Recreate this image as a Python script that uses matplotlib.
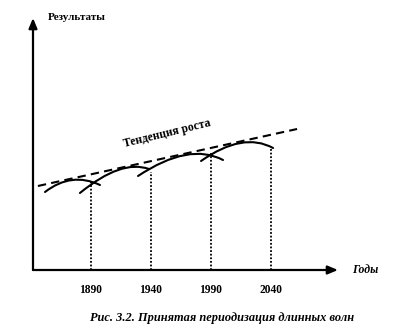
import numpy as np
import matplotlib
matplotlib.use("Agg")
import matplotlib.pyplot as plt
from matplotlib.path import Path
from matplotlib.patches import PathPatch

plt.rcParams['font.family'] = ['Liberation Serif', 'DejaVu Serif']

# Годы-границы волн (пунктирные вертикали) и высота, до которой они доходят
years = [1890, 1940, 1990, 2040]
year_labels = ['1890', '1940', '1990', '2040']
cut_heights = [88, 98, 117, 122]

# Длинные волны: начало, управляющая точка, конец (год, результат)
wave_start = [(1851.7, 78), (1880.8, 77), (1929.2, 94), (1981.7, 109)]
wave_ctrl = [(1873.8, 98.5), (1915.4, 111), (1972.0, 128), (2016.7, 138.5)]
wave_end = [(1897.5, 85), (1938.3, 101), (2000.0, 110), (2041.7, 122)]

# Тенденция роста
trend_x = [1845.8, 2061.7]
trend_y = [84, 141]

fig = plt.figure(figsize=(4.16, 3.35), dpi=100)
ax = fig.add_axes([33/416, 65/335, 305/416, 252/335])
ax.set_xlim(1841.7, 2095.8)
ax.set_ylim(0, 252)
for s in ax.spines.values():
    s.set_visible(False)
ax.set_yticks([])
ax.set_xticks(years)
ax.set_xticklabels(year_labels, fontsize=8.3, fontweight='bold')
ax.tick_params(axis='x', length=0, pad=10)

# оси со стрелками
arrow = dict(arrowstyle='-|>,head_length=0.6,head_width=0.25', color='black',
             lw=1.6, shrinkA=0, shrinkB=0)
ax.annotate('', xy=(0, 1), xytext=(0, 0), xycoords='axes fraction',
            arrowprops=arrow, annotation_clip=False)
ax.annotate('', xy=(1, 0), xytext=(0, 0), xycoords='axes fraction',
            arrowprops=arrow, annotation_clip=False)

# волны
for s, c, e in zip(wave_start, wave_ctrl, wave_end):
    p = Path([s, c, e], [Path.MOVETO, Path.CURVE3, Path.CURVE3])
    ax.add_patch(PathPatch(p, fill=False, lw=1.5, color='black', capstyle='round'))

# пунктир до волн
ax.vlines(years, 0, cut_heights, colors='black', linestyles=(0, (1, 1)), lw=1.3)

ax.plot(trend_x, trend_y, color='black', lw=1.5, linestyle=(0, (4, 2.5)))

ang = np.degrees(np.arctan2(22, 90))
ax.text(1953, 136, 'Тенденция роста', fontsize=8.5, fontweight='bold',
        rotation=ang, ha='center', va='center', rotation_mode='anchor')

ax.text(0.05, 1.0, 'Результаты', transform=ax.transAxes, fontsize=8,
        fontweight='bold', ha='left', va='center')
ax.text(1.045, 0.0, 'Годы', transform=ax.transAxes, fontsize=8.5,
        fontweight='bold', style='italic', ha='left', va='center')

fig.text(222/416, 1 - 318/335, 'Рис. 3.2. Принятая периодизация длинных волн',
         fontsize=8.9, fontweight='bold', style='italic', ha='center', va='center')

fig.savefig('out.png', dpi=100, facecolor='white')
